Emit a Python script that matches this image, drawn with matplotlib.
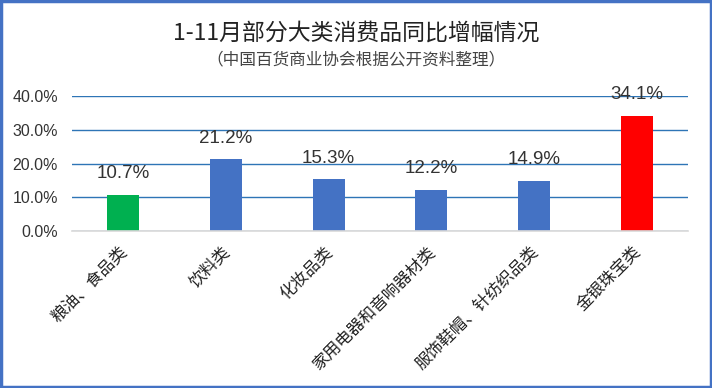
import matplotlib
matplotlib.use("Agg")
import matplotlib.pyplot as plt
from matplotlib.patches import Rectangle

plt.rcParams['font.family'] = ['Noto Sans CJK SC', 'DejaVu Sans']

categories = ["粮油、食品类", "饮料类", "化妆品类", "家用电器和音响器材类", "服饰鞋帽、针纺织品类", "金银珠宝类"]
values = [10.7, 21.2, 15.3, 12.2, 14.9, 34.1]
colors = ["#00B050", "#4472C4", "#4472C4", "#4472C4", "#4472C4", "#FF0000"]
yticks = [0, 10, 20, 30, 40]
title = "1-11月部分大类消费品同比增幅情况"
subtitle = "（中国百货商业协会根据公开资料整理）"

NUM_FONT = ['Liberation Sans', 'DejaVu Sans']

fig = plt.figure(figsize=(7.12, 3.88), dpi=100)
ax = fig.add_axes([72/712, 1-231/388, 616/712, 135/388])

x = list(range(len(categories)))
ax.bar(x, values, width=0.31, color=colors, zorder=3)
ax.set_xlim(-0.5, len(categories)-0.5)
ax.set_ylim(0, 40)
ax.set_yticks(yticks)
ax.set_yticklabels([f"{v:.1f}%" for v in yticks], fontsize=11.5, color="#333333", family=NUM_FONT)
ax.tick_params(axis='y', length=0, pad=10)
ax.tick_params(axis='x', length=0)
ax.set_xticks(x)
ax.set_xticklabels([])
for i, c in enumerate(categories):
    ax.annotate(c, xy=(i, 0), xycoords='data', xytext=(-3, -9), textcoords='offset points',
                rotation=45, ha='right', va='top', rotation_mode='anchor',
                fontsize=12, color="#222222", annotation_clip=False)

ax.grid(axis='y', color="#2E75B6", linewidth=1, zorder=0)
for s in ['top', 'right', 'left']:
    ax.spines[s].set_visible(False)
ax.spines['bottom'].set_color("#D9D9D9")
ax.spines['bottom'].set_linewidth(1.2)
ax.spines['bottom'].set_zorder(4)

for i, v in enumerate(values):
    ax.annotate(f"{v:.1f}%", xy=(i, v), xytext=(0, 12), textcoords='offset points',
                ha='center', va='baseline', fontsize=13.5, color="#333333", family=NUM_FONT, zorder=5)

fig.text(0.5, 1-33/388, title, ha='center', va='center', fontsize=16.5, color="#222222")
fig.text(0.5, 1-60/388, subtitle, ha='center', va='center', fontsize=12, color="#444444")

fig.patches.append(Rectangle((0.002, 0.003), 0.996, 0.994, transform=fig.transFigure,
                             fill=False, edgecolor="#4472C4", linewidth=2.5))

fig.savefig("out.png", dpi=100, facecolor="white")
